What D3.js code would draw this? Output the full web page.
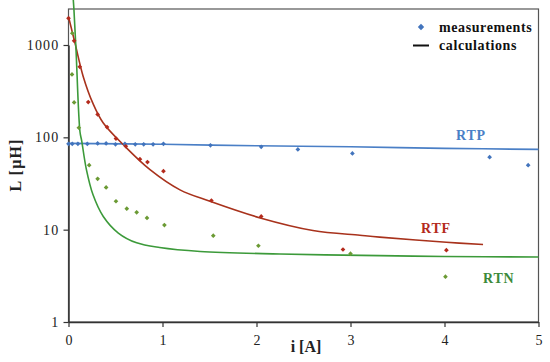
<!DOCTYPE html>
<html>
<head>
<meta charset="utf-8">
<script src="https://cdn.jsdelivr.net/npm/d3@7"></script>
<style>
  body { margin: 0; background: #fff; }
  svg text { font-family: "Liberation Serif", "Times New Roman", serif; }
</style>
</head>
<body>
<div class="main"></div>
<script>
////Data: [i (A), L (uH)]
const rtpMeas = [[0, 85], [0.04, 85], [0.1, 85], [0.2, 85], [0.31, 86], [0.4, 86], [0.5, 84], [0.6, 85], [0.71, 84], [0.8, 84], [0.9, 84], [1.01, 85],
  [1.51, 82], [2.05, 79], [2.44, 74], [3.02, 67], [4.48, 61], [4.89, 50]];
const rtpCalc = [[0, 86], [1, 84], [2, 81], [3, 79], [4, 76], [5, 74]];

const rtfMeas = [[0, 1945], [0.06, 1110], [0.12, 580], [0.21, 241], [0.31, 177], [0.41, 129], [0.505, 97], [0.61, 80], [0.76, 58], [0.84, 54], [1.01, 43],
  [1.52, 20.7], [2.05, 13.9], [2.92, 6.1], [4.02, 6.0]];
const rtfCalc = [[0, 2030], [0.07, 1040], [0.157, 454], [0.26, 233], [0.37, 143], [0.6, 80], [0.867, 44.7], [1.186, 27], [1.505, 20.3], [2.04, 13.4],
  [2.6, 9.8], [3.1, 8.7], [3.31, 8.3], [4.02, 7.3], [4.41, 6.9]];

const rtnMeas = [[0.04, 1340], [0.037, 480], [0.06, 239], [0.11, 127], [0.22, 50], [0.31, 35.5], [0.4, 28.7], [0.505, 20.3], [0.62, 16.9], [0.725, 15.4],
  [0.835, 13.4], [1.02, 11.2], [1.54, 8.6], [2.02, 6.7], [3.0, 5.5], [4.01, 3.1]];
const rtnCalc = [[0.051, 3080], [0.058, 2400], [0.08, 883], [0.122, 115], [0.14, 92], [0.19, 45], [0.26, 24], [0.37, 13.9], [0.53, 9.2], [0.725, 7.2],
  [0.97, 6.4], [1.4, 5.8], [2.25, 5.45], [3.31, 5.23], [4, 5.12], [5, 5.06]];

const xTicks = [0, 1, 2, 3, 4, 5];
const yTicks = [1, 10, 100, 1000];

////Global Variables
const width = 550;
const height = 362;
const plotLeft = 68.5, plotRight = 538.5, plotTop = 9, plotBottom = 322;
const serif = '"Liberation Serif", "Times New Roman", serif';

const svg = d3.select('.main').append('svg')
  .attr('width', width)
  .attr('height', height)
  .attr('font-family', serif);

const xScale = d3.scaleLinear().domain([0, 5]).range([plotLeft, plotRight]);
const yScale = d3.scaleLog().domain([1, 1000]).range([plotBottom, 45]);

////Frame
svg.append('rect')
  .attr('x', plotLeft).attr('y', plotTop)
  .attr('width', plotRight - plotLeft).attr('height', plotBottom - plotTop)
  .attr('fill', 'none').attr('stroke', '#555').attr('stroke-width', 1.2);

////Axes
const xAxis = d3.axisBottom(xScale).tickValues(xTicks).tickFormat(d3.format('d')).tickSize(5).tickSizeOuter(0);
const yAxis = d3.axisLeft(yScale).tickValues(yTicks).tickFormat(d3.format('d')).tickSize(5).tickSizeOuter(0);

const gx = svg.append('g')
  .attr('transform', `translate(0, ${plotBottom})`)
  .call(xAxis);
const gy = svg.append('g')
  .attr('transform', `translate(${plotLeft}, 0)`)
  .call(yAxis);

[gx, gy].forEach(g => {
  g.attr('font-family', serif).attr('font-size', 14);
  g.select('.domain').attr('stroke', '#333').attr('stroke-width', 1.5);
  g.selectAll('.tick line').attr('stroke', '#333').attr('stroke-width', 1.2);
  g.selectAll('.tick text').attr('fill', '#222');
});
gx.selectAll('.tick text').attr('dy', '1.05em');
gy.selectAll('.tick text').attr('x', -9).attr('letter-spacing', 1.2);

////Axis titles
svg.append('text')
  .attr('x', 306).attr('y', 352)
  .attr('text-anchor', 'middle')
  .attr('font-size', 16).attr('font-weight', 'bold').attr('fill', '#222')
  .text('i [A]');
svg.append('text')
  .attr('transform', 'translate(21, 165) rotate(-90)')
  .attr('text-anchor', 'middle')
  .attr('font-size', 16).attr('font-weight', 'bold').attr('fill', '#222')
  .attr('letter-spacing', 1.2)
  .text('L [μH]');

////Lines
const line = d3.line()
  .x(d => xScale(d[0]))
  .y(d => yScale(d[1]))
  .curve(d3.curveCatmullRom.alpha(0.5));

const series = [
  { calc: rtpCalc, meas: rtpMeas, line: '#4a7fc6', dot: '#4274bd' },
  { calc: rtfCalc, meas: rtfMeas, line: '#a8321c', dot: '#b42a1c' },
  { calc: rtnCalc, meas: rtnMeas, line: '#3c9a3a', dot: '#6b9a34' }
];

series.forEach(s => {
  svg.append('path')
    .datum(s.calc)
    .attr('d', line)
    .attr('fill', 'none')
    .attr('stroke', s.line)
    .attr('stroke-width', 1.6);
});

series.forEach(s => {
  svg.selectAll(null)
    .data(s.meas)
    .enter()
    .append('path')
    .attr('d', d3.symbol(d3.symbolDiamond2, 14))
    .attr('transform', d => `translate(${xScale(d[0])}, ${yScale(d[1])})`)
    .attr('fill', s.dot);
});

////Series labels
const labels = [
  { t: 'RTP', x: 456, y: 140, c: '#4a7fc6' },
  { t: 'RTF', x: 421, y: 233, c: '#b42a1c' },
  { t: 'RTN', x: 483, y: 283, c: '#3c8a3a' }
];
svg.selectAll('.lbl')
  .data(labels)
  .enter()
  .append('text')
  .attr('class', 'lbl')
  .attr('x', d => d.x).attr('y', d => d.y)
  .attr('font-size', 14).attr('font-weight', 'bold')
  .attr('letter-spacing', 0.8)
  .attr('fill', d => d.c)
  .text(d => d.t);

////Legend
svg.append('path')
  .attr('d', d3.symbol(d3.symbolDiamond2, 26))
  .attr('transform', 'translate(421, 27)')
  .attr('fill', '#4274bd');
svg.append('line')
  .attr('x1', 413).attr('x2', 429).attr('y1', 45.5).attr('y2', 45.5)
  .attr('stroke', '#111').attr('stroke-width', 2);
svg.append('text')
  .attr('x', 439).attr('y', 31.5)
  .attr('font-size', 14).attr('font-weight', 'bold').attr('fill', '#111')
  .attr('letter-spacing', 0.6)
  .text('measurements');
svg.append('text')
  .attr('x', 439).attr('y', 50)
  .attr('font-size', 14).attr('font-weight', 'bold').attr('fill', '#111')
  .attr('letter-spacing', 0.6)
  .text('calculations');
</script>
</body>
</html>
